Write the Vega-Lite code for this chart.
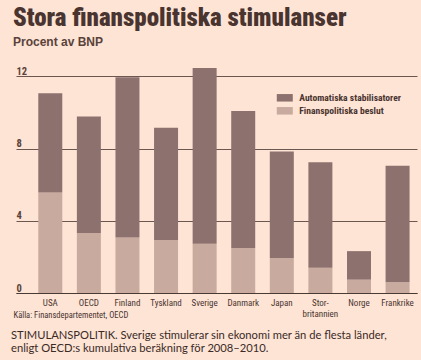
{
  "$schema": "https://vega.github.io/schema/vega-lite/v6.json",
  "background": "#fde4d5",
  "padding": {"left": 11, "right": 9, "top": 6, "bottom": 6},
  "title": {
    "text": ["STIMULANSPOLITIK. Sverige stimulerar sin ekonomi mer än de flesta länder,", "enligt OECD:s kumulativa beräkning för 2008–2010."],
    "orient": "bottom", "anchor": "start", "font": "Lato", "fontSize": 11.2, "fontWeight": "normal", "color": "#3b2a26", "lineHeight": 13, "offset": 11, "dx": -2
  },
  "vconcat": [
    {
      "title": {
        "text": "Stora finanspolitiska stimulanser",
        "subtitle": "Procent av BNP",
        "anchor": "start",
        "font": "Roboto Condensed, Open Sans Condensed, Noto Sans Condensed",
        "fontSize": 25, "fontWeight": 900, "color": "#4a3430",
        "subtitleFont": "Liberation Sans", "subtitleFontSize": 12, "subtitleFontWeight": "bold", "subtitleColor": "#5a423b",
        "subtitlePadding": 6, "offset": 14
      },
      "width": 401,
      "height": 231,
      "data": {"values": [
        {"land": "USA", "typ": "Finanspolitiska beslut", "varde": 5.57},
        {"land": "USA", "typ": "Automatiska stabilisatorer", "varde": 5.5},
        {"land": "OECD", "typ": "Finanspolitiska beslut", "varde": 3.32},
        {"land": "OECD", "typ": "Automatiska stabilisatorer", "varde": 6.46},
        {"land": "Finland", "typ": "Finanspolitiska beslut", "varde": 3.08},
        {"land": "Finland", "typ": "Automatiska stabilisatorer", "varde": 8.87},
        {"land": "Tyskland", "typ": "Finanspolitiska beslut", "varde": 2.93},
        {"land": "Tyskland", "typ": "Automatiska stabilisatorer", "varde": 6.22},
        {"land": "Sverige", "typ": "Finanspolitiska beslut", "varde": 2.73},
        {"land": "Sverige", "typ": "Automatiska stabilisatorer", "varde": 9.74},
        {"land": "Danmark", "typ": "Finanspolitiska beslut", "varde": 2.49},
        {"land": "Danmark", "typ": "Automatiska stabilisatorer", "varde": 7.6},
        {"land": "Japan", "typ": "Finanspolitiska beslut", "varde": 1.94},
        {"land": "Japan", "typ": "Automatiska stabilisatorer", "varde": 5.9},
        {"land": "Storbritannien", "typ": "Finanspolitiska beslut", "varde": 1.4},
        {"land": "Storbritannien", "typ": "Automatiska stabilisatorer", "varde": 5.85},
        {"land": "Norge", "typ": "Finanspolitiska beslut", "varde": 0.74},
        {"land": "Norge", "typ": "Automatiska stabilisatorer", "varde": 1.58},
        {"land": "Frankrike", "typ": "Finanspolitiska beslut", "varde": 0.59},
        {"land": "Frankrike", "typ": "Automatiska stabilisatorer", "varde": 6.46}
      ]},
      "mark": {"type": "bar"},
      "encoding": {
        "x": {
          "field": "land", "type": "nominal", "sort": null,
          "scale": {"paddingInner": 0.378, "paddingOuter": 0.385, "align": 0.75},
          "axis": {
            "title": "Källa: Finansdepartementet, OECD",
            "titleFont": "Roboto Condensed, Open Sans Condensed, Noto Sans Condensed",
            "titleFontSize": 8.5, "titleFontWeight": "normal", "titleColor": "#4a3430",
            "titleAnchor": "start", "titleAlign": "left", "titleX": -3, "titleY": 17, "titleBaseline": "top",
            "labelAngle": 0,
            "labelFont": "Roboto Condensed, Open Sans Condensed, Noto Sans Condensed",
            "labelFontSize": 9, "labelColor": "#4a3430", "labelPadding": 5,
            "labelExpr": "datum.value == 'Storbritannien' ? ['Stor-', 'britannien'] : datum.label",
            "ticks": false, "domainColor": "#4a3a35", "domainWidth": 1.2
          }
        },
        "y": {
          "field": "varde", "type": "quantitative", "stack": "zero",
          "scale": {"domain": [0, 12.8], "nice": false},
          "axis": {
            "title": null, "values": [0, 4, 8, 12], "grid": true, "gridColor": "#6b5650", "gridWidth": 1,
            "domain": false, "ticks": false,
            "labelAlign": "left", "labelBaseline": "bottom", "labelPadding": 0, "labelOffset": 0,
            "labelFont": "Roboto Condensed, Open Sans Condensed, Noto Sans Condensed", "labelFontSize": 10.5, "labelFontWeight": "bold", "labelColor": "#5a423b"
          }
        },
        "color": {
          "field": "typ", "type": "nominal",
          "scale": {"domain": ["Automatiska stabilisatorer", "Finanspolitiska beslut"], "range": ["#8d716e", "#c8aa9f"]},
          "legend": {
            "title": null, "orient": "none", "legendX": 264, "legendY": 31, "padding": 0,
            "symbolType": "M-2,-0.94H2V0.94H-2Z", "symbolSize": 64, "symbolStrokeWidth": 0, "symbolOpacity": 1,
            "labelOffset": 9.6, "rowPadding": 2,
            "labelFont": "Roboto Condensed, Open Sans Condensed, Noto Sans Condensed",
            "labelFontSize": 9.6, "labelFontWeight": "bold", "labelColor": "#4a3430"
          }
        },
        "order": {"field": "typ", "sort": "descending"}
      }
    }
  ],
  "config": {"view": {"stroke": null}}
}
